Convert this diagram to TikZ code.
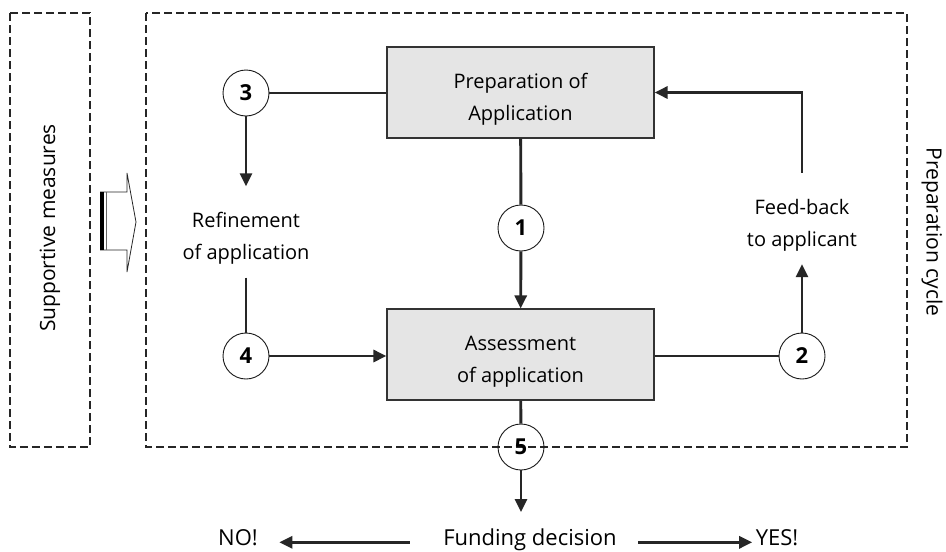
\documentclass[tikz,border=0pt]{standalone}
\usepackage{fontspec}
\setmainfont{Open Sans}
\usetikzlibrary{arrows.meta}

\begin{document}
\begin{tikzpicture}[x=1pt,y=-1pt,
    every node/.style={font=\fontsize{20}{32}\selectfont, align=center},
    stage/.style={draw=black!80, line width=1.2pt, fill=black!10,
        minimum width=267pt, minimum height=91pt, text height=60pt, text depth=5pt},
    num/.style={circle, draw=black!90, line width=0.9pt, minimum size=46pt,
        inner sep=0pt, font=\fontsize{22}{24}\selectfont\bfseries},
    flow/.style={line width=2.9pt, draw=black!85},
    arr/.style={flow, -{Triangle[length=13pt,width=12pt]}},
    frame/.style={draw=black!85, line width=2.7pt, dash pattern=on 8pt off 4pt},
    note/.style={inner xsep=0pt, inner ysep=13pt, text height=60pt, text depth=5pt},
    outcome/.style={anchor=base, font=\fontsize{22}{26}\selectfont}]
    \path[use as bounding box, fill=white] (0,0) rectangle (946,552);

    % the two dashed frames
    \draw[frame] (10,13) rectangle (90,447);
    \draw[frame] (146,13) rectangle (907,447);
    \node[rotate=90, font=\fontsize{21}{24}\selectfont] (support) at (50,228) {Supportive measures};
    \node[rotate=-90, font=\fontsize{21}{24}\selectfont] (cycle) at (932,232) {Preparation cycle};

    % hollow arrow between the frames
    \draw[line width=0.8pt, draw=black!85] (100,192) -- (127,192) -- (127,173) -- (136,222)
        -- (127,272) -- (127,250) -- (100,250);
    \draw[line width=3.5pt] (102,192) -- (102,250);
    \draw[line width=0.8pt, draw=black!60] (106,192) -- (106,250);

    \node[stage] (prep) at (520.5,92.5) {Preparation of\\Application};
    \node[stage] (assess) at (520.5,354.5) {Assessment\\of application};

    \node[num] (n1) at (521,228) {1};
    \node[num] (n2) at (802,356) {2};
    \node[num] (n3) at (246,93) {3};
    \node[num] (n4) at (246,356) {4};
    \node[num] (n5) at (521,447) {5};

    \node[note] (refine) at (246,232) {Refinement\\of application};
    \node[note] (feed) at (802,218.5) {Feed-back\\to applicant};

    \draw[flow] (n3) -- (n3 -| prep.west);
    \draw[arr] (n3) -- (refine);
    \draw[flow] (refine) -- (n4);
    \draw[arr] (n4) -- (n4 -| assess.west);
    \draw[flow] (prep) -- (n1);
    \draw[arr] (n1) -- (assess);
    \draw[flow] (n2 -| assess.east) -- (n2);
    \draw[arr] (n2) -- (feed);
    \draw[arr] (feed) |- (prep);

    % outcome of the assessment
    \node[outcome, inner ysep=16pt] (fund) at (530,545) {Funding decision};
    \node[outcome] (no) at (238,545) {NO!};
    \node[outcome] (yes) at (777,545) {YES!};
    \draw[flow] (assess) -- (n5);
    \draw[arr] (n5) -- (n5 |- fund.north);
    \draw[arr, shorten <=30pt, shorten >=18pt] (fund.mid west) -- (no.mid east);
    \draw[arr, shorten <=18pt] (fund.mid east) -- (yes.mid west);

\end{tikzpicture}
\end{document}
